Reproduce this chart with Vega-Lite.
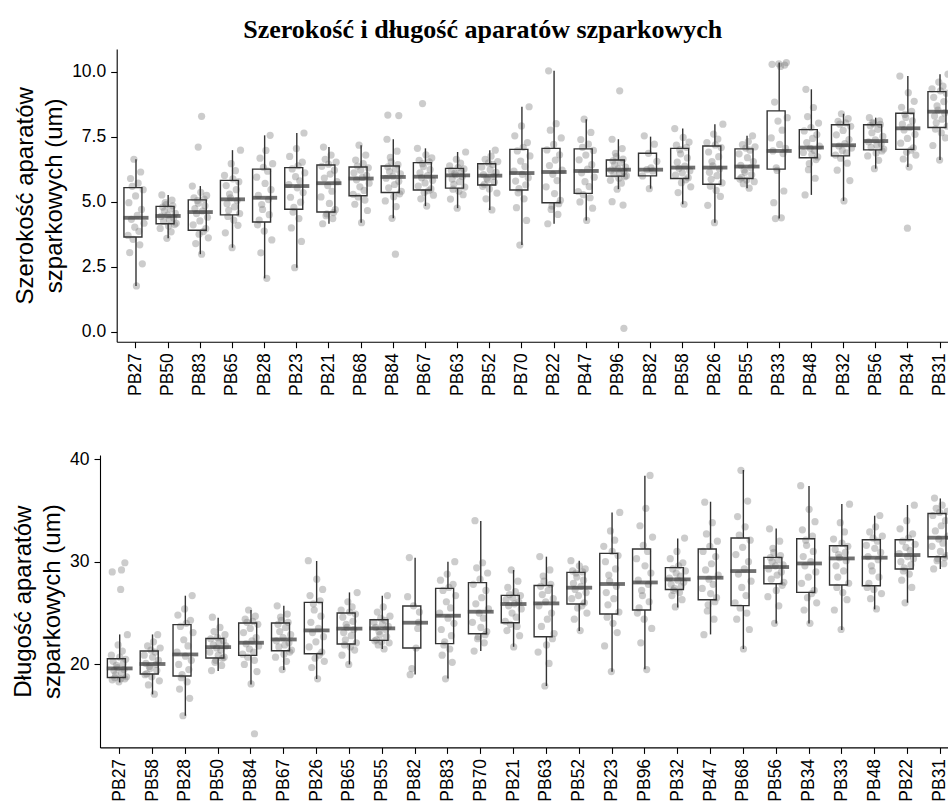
{
"$schema": "https://vega.github.io/schema/vega-lite/v6.json",
"padding": {"left": 11, "top": 17, "right": 0, "bottom": 0},
"title": {"text": "Szerokość i długość aparatów szparkowych", "font": "Liberation Serif", "fontSize": 26, "fontWeight": "bold", "color": "black", "anchor": "middle", "offset": 6, "dx": -3},
"spacing": 54,
"config": {
  "view": {"stroke": null},
  "axis": {"domainColor": "black", "domainWidth": 1.1, "tickColor": "black", "tickWidth": 1.1, "tickSize": 6, "labelPadding": 5, "labelColor": "black", "labelFont": "Liberation Sans", "labelFontSize": 17.5, "titleFont": "Liberation Sans", "titleFontSize": 24, "titleFontWeight": "normal", "titleColor": "black", "titleLineHeight": 29, "titlePadding": 5, "grid": false, "labelOverlap": false, "labelFlush": false}
},
"datasets": {
"bw": [
{"g":"PB27","lo":1.76,"q1":3.64,"md":4.38,"q3":5.54,"hi":6.63},
{"g":"PB50","lo":3.59,"q1":4.15,"md":4.45,"q3":4.82,"hi":5.26},
{"g":"PB83","lo":2.98,"q1":3.90,"md":4.60,"q3":5.07,"hi":5.60},
{"g":"PB65","lo":3.23,"q1":4.49,"md":5.09,"q3":5.82,"hi":6.98},
{"g":"PB28","lo":2.05,"q1":4.22,"md":5.15,"q3":6.25,"hi":7.55},
{"g":"PB23","lo":2.46,"q1":4.71,"md":5.60,"q3":6.31,"hi":7.64},
{"g":"PB21","lo":4.15,"q1":4.60,"md":5.71,"q3":6.41,"hi":7.10},
{"g":"PB68","lo":4.19,"q1":5.23,"md":5.89,"q3":6.33,"hi":7.17},
{"g":"PB84","lo":4.36,"q1":5.35,"md":5.95,"q3":6.37,"hi":7.40},
{"g":"PB67","lo":4.83,"q1":5.45,"md":5.96,"q3":6.50,"hi":7.05},
{"g":"PB63","lo":4.75,"q1":5.52,"md":6.01,"q3":6.28,"hi":6.91},
{"g":"PB52","lo":4.68,"q1":5.64,"md":6.00,"q3":6.46,"hi":6.98},
{"g":"PB70","lo":3.33,"q1":5.45,"md":6.10,"q3":7.01,"hi":8.65},
{"g":"PB22","lo":4.15,"q1":4.96,"md":6.14,"q3":7.05,"hi":10.03},
{"g":"PB47","lo":4.28,"q1":5.32,"md":6.18,"q3":7.03,"hi":8.17},
{"g":"PB96","lo":5.48,"q1":5.98,"md":6.23,"q3":6.60,"hi":7.40},
{"g":"PB82","lo":5.50,"q1":5.99,"md":6.23,"q3":6.86,"hi":7.50},
{"g":"PB58","lo":4.90,"q1":5.89,"md":6.31,"q3":7.05,"hi":7.81},
{"g":"PB26","lo":4.19,"q1":5.67,"md":6.31,"q3":7.14,"hi":7.98},
{"g":"PB55","lo":5.52,"q1":5.89,"md":6.35,"q3":7.03,"hi":7.53},
{"g":"PB33","lo":4.35,"q1":6.25,"md":6.95,"q3":8.49,"hi":10.35},
{"g":"PB48","lo":5.26,"q1":6.69,"md":7.08,"q3":7.77,"hi":9.32},
{"g":"PB32","lo":5.03,"q1":6.76,"md":7.17,"q3":7.96,"hi":8.38},
{"g":"PB56","lo":6.27,"q1":6.99,"md":7.33,"q3":7.96,"hi":8.23},
{"g":"PB34","lo":6.33,"q1":7.01,"md":7.82,"q3":8.40,"hi":9.83},
{"g":"PB31","lo":6.60,"q1":7.85,"md":8.46,"q3":9.23,"hi":9.90}
],
"bl": [
{"g":"PB27","lo":18.25,"q1":18.73,"md":19.61,"q3":20.55,"hi":22.92},
{"g":"PB58","lo":17.08,"q1":19.07,"md":20.04,"q3":21.30,"hi":22.92},
{"g":"PB28","lo":15.0,"q1":18.87,"md":20.97,"q3":23.87,"hi":26.69},
{"g":"PB50","lo":19.36,"q1":20.62,"md":21.69,"q3":22.53,"hi":24.55},
{"g":"PB84","lo":18.05,"q1":20.88,"md":22.11,"q3":24.03,"hi":25.30},
{"g":"PB67","lo":19.45,"q1":21.33,"md":22.43,"q3":24.03,"hi":25.72},
{"g":"PB26","lo":18.58,"q1":21.04,"md":23.31,"q3":26.04,"hi":30.07},
{"g":"PB65","lo":20.0,"q1":21.99,"md":23.48,"q3":25.0,"hi":27.01},
{"g":"PB55","lo":21.50,"q1":22.34,"md":23.51,"q3":24.35,"hi":26.69},
{"g":"PB82","lo":19.03,"q1":21.60,"md":24.06,"q3":25.69,"hi":30.39},
{"g":"PB83","lo":18.64,"q1":22.02,"md":24.74,"q3":27.40,"hi":30.0},
{"g":"PB70","lo":21.30,"q1":22.99,"md":25.13,"q3":27.96,"hi":33.96},
{"g":"PB21","lo":21.72,"q1":24.06,"md":25.88,"q3":26.72,"hi":29.19},
{"g":"PB63","lo":17.90,"q1":22.70,"md":25.94,"q3":27.69,"hi":30.49},
{"g":"PB52","lo":23.25,"q1":25.88,"md":27.47,"q3":28.96,"hi":30.10},
{"g":"PB23","lo":19.29,"q1":24.91,"md":27.83,"q3":30.81,"hi":34.80},
{"g":"PB96","lo":19.52,"q1":25.30,"md":27.98,"q3":31.24,"hi":38.37},
{"g":"PB32","lo":25.55,"q1":27.30,"md":28.28,"q3":29.42,"hi":32.27},
{"g":"PB47","lo":22.92,"q1":26.30,"md":28.44,"q3":31.24,"hi":35.84},
{"g":"PB68","lo":21.50,"q1":25.72,"md":29.09,"q3":32.31,"hi":38.93},
{"g":"PB56","lo":23.99,"q1":27.86,"md":29.48,"q3":30.42,"hi":33.24},
{"g":"PB34","lo":23.99,"q1":27.01,"md":29.83,"q3":32.24,"hi":37.37},
{"g":"PB33","lo":23.35,"q1":27.73,"md":30.32,"q3":31.56,"hi":35.62},
{"g":"PB48","lo":25.36,"q1":27.66,"md":30.39,"q3":32.14,"hi":34.48},
{"g":"PB22","lo":26.01,"q1":29.29,"md":30.65,"q3":32.14,"hi":35.52},
{"g":"PB31","lo":29.29,"q1":30.49,"md":32.34,"q3":34.70,"hi":36.16}
],
"w": [
{"g":"PB27","v":3.55,"r":7},{"g":"PB27","v":3.34,"r":15},{"g":"PB27","v":3.04,"r":3},{"g":"PB27","v":2.61,"r":18},{"g":"PB27","v":1.76,"r":11},{"g":"PB27","v":3.70,"r":1},{"g":"PB27","v":3.86,"r":14},{"g":"PB27","v":4.02,"r":9},{"g":"PB27","v":4.17,"r":20},{"g":"PB27","v":4.32,"r":5},{"g":"PB27","v":4.47,"r":12},{"g":"PB27","v":4.70,"r":17},{"g":"PB27","v":4.96,"r":2},{"g":"PB27","v":5.22,"r":10},{"g":"PB27","v":5.46,"r":19},{"g":"PB27","v":5.59,"r":6},{"g":"PB27","v":5.71,"r":13},{"g":"PB27","v":5.89,"r":4},{"g":"PB27","v":6.14,"r":16},{"g":"PB27","v":6.63,"r":8},
{"g":"PB50","v":4.12,"r":18},{"g":"PB50","v":4.06,"r":11},{"g":"PB50","v":3.97,"r":1},{"g":"PB50","v":3.84,"r":14},{"g":"PB50","v":3.59,"r":9},{"g":"PB50","v":4.17,"r":20},{"g":"PB50","v":4.24,"r":5},{"g":"PB50","v":4.31,"r":12},{"g":"PB50","v":4.37,"r":17},{"g":"PB50","v":4.43,"r":2},{"g":"PB50","v":4.48,"r":10},{"g":"PB50","v":4.55,"r":19},{"g":"PB50","v":4.64,"r":6},{"g":"PB50","v":4.72,"r":13},{"g":"PB50","v":4.79,"r":4},{"g":"PB50","v":4.84,"r":16},{"g":"PB50","v":4.89,"r":8},{"g":"PB50","v":4.96,"r":7},{"g":"PB50","v":5.06,"r":15},{"g":"PB50","v":5.26,"r":3},
{"g":"PB83","v":3.85,"r":14},{"g":"PB83","v":3.75,"r":9},{"g":"PB83","v":3.61,"r":20},{"g":"PB83","v":3.39,"r":5},{"g":"PB83","v":2.98,"r":12},{"g":"PB83","v":3.96,"r":17},{"g":"PB83","v":4.11,"r":2},{"g":"PB83","v":4.26,"r":10},{"g":"PB83","v":4.40,"r":19},{"g":"PB83","v":4.54,"r":6},{"g":"PB83","v":4.64,"r":13},{"g":"PB83","v":4.73,"r":4},{"g":"PB83","v":4.84,"r":16},{"g":"PB83","v":4.94,"r":8},{"g":"PB83","v":5.04,"r":7},{"g":"PB83","v":5.10,"r":15},{"g":"PB83","v":5.15,"r":3},{"g":"PB83","v":5.24,"r":18},{"g":"PB83","v":5.36,"r":11},{"g":"PB83","v":5.60,"r":1},{"g":"PB83","v":7.10,"r":8},{"g":"PB83","v":8.28,"r":12},
{"g":"PB65","v":4.43,"r":5},{"g":"PB65","v":4.29,"r":12},{"g":"PB65","v":4.09,"r":17},{"g":"PB65","v":3.80,"r":2},{"g":"PB65","v":3.23,"r":10},{"g":"PB65","v":4.54,"r":19},{"g":"PB65","v":4.67,"r":6},{"g":"PB65","v":4.80,"r":13},{"g":"PB65","v":4.92,"r":4},{"g":"PB65","v":5.04,"r":16},{"g":"PB65","v":5.15,"r":8},{"g":"PB65","v":5.29,"r":7},{"g":"PB65","v":5.46,"r":15},{"g":"PB65","v":5.62,"r":3},{"g":"PB65","v":5.77,"r":18},{"g":"PB65","v":5.88,"r":11},{"g":"PB65","v":6.01,"r":1},{"g":"PB65","v":6.19,"r":14},{"g":"PB65","v":6.46,"r":9},{"g":"PB65","v":6.98,"r":20},
{"g":"PB28","v":4.11,"r":2},{"g":"PB28","v":3.87,"r":10},{"g":"PB28","v":3.53,"r":19},{"g":"PB28","v":3.03,"r":6},{"g":"PB28","v":2.05,"r":13},{"g":"PB28","v":4.29,"r":4},{"g":"PB28","v":4.50,"r":16},{"g":"PB28","v":4.70,"r":8},{"g":"PB28","v":4.89,"r":7},{"g":"PB28","v":5.08,"r":15},{"g":"PB28","v":5.24,"r":3},{"g":"PB28","v":5.46,"r":18},{"g":"PB28","v":5.70,"r":11},{"g":"PB28","v":5.94,"r":1},{"g":"PB28","v":6.17,"r":14},{"g":"PB28","v":6.32,"r":9},{"g":"PB28","v":6.46,"r":20},{"g":"PB28","v":6.67,"r":5},{"g":"PB28","v":6.97,"r":12},{"g":"PB28","v":7.55,"r":17},
{"g":"PB23","v":4.60,"r":6},{"g":"PB23","v":4.35,"r":13},{"g":"PB23","v":3.99,"r":4},{"g":"PB23","v":3.47,"r":16},{"g":"PB23","v":2.46,"r":8},{"g":"PB23","v":4.78,"r":7},{"g":"PB23","v":4.98,"r":15},{"g":"PB23","v":5.17,"r":3},{"g":"PB23","v":5.35,"r":18},{"g":"PB23","v":5.53,"r":11},{"g":"PB23","v":5.66,"r":1},{"g":"PB23","v":5.80,"r":14},{"g":"PB23","v":5.96,"r":9},{"g":"PB23","v":6.11,"r":20},{"g":"PB23","v":6.26,"r":5},{"g":"PB23","v":6.38,"r":12},{"g":"PB23","v":6.52,"r":17},{"g":"PB23","v":6.74,"r":2},{"g":"PB23","v":7.04,"r":10},{"g":"PB23","v":7.64,"r":19},
{"g":"PB21","v":4.58,"r":16},{"g":"PB21","v":4.53,"r":8},{"g":"PB21","v":4.46,"r":7},{"g":"PB21","v":4.35,"r":15},{"g":"PB21","v":4.15,"r":3},{"g":"PB21","v":4.69,"r":18},{"g":"PB21","v":4.93,"r":11},{"g":"PB21","v":5.18,"r":1},{"g":"PB21","v":5.40,"r":14},{"g":"PB21","v":5.62,"r":9},{"g":"PB21","v":5.77,"r":20},{"g":"PB21","v":5.91,"r":5},{"g":"PB21","v":6.06,"r":12},{"g":"PB21","v":6.21,"r":17},{"g":"PB21","v":6.36,"r":2},{"g":"PB21","v":6.44,"r":10},{"g":"PB21","v":6.52,"r":19},{"g":"PB21","v":6.63,"r":6},{"g":"PB21","v":6.79,"r":13},{"g":"PB21","v":7.10,"r":4},
{"g":"PB68","v":5.18,"r":7},{"g":"PB68","v":5.06,"r":15},{"g":"PB68","v":4.90,"r":3},{"g":"PB68","v":4.66,"r":18},{"g":"PB68","v":4.19,"r":11},{"g":"PB68","v":5.28,"r":1},{"g":"PB68","v":5.43,"r":14},{"g":"PB68","v":5.57,"r":9},{"g":"PB68","v":5.71,"r":20},{"g":"PB68","v":5.84,"r":5},{"g":"PB68","v":5.93,"r":12},{"g":"PB68","v":6.01,"r":17},{"g":"PB68","v":6.11,"r":2},{"g":"PB68","v":6.21,"r":10},{"g":"PB68","v":6.30,"r":19},{"g":"PB68","v":6.37,"r":6},{"g":"PB68","v":6.46,"r":13},{"g":"PB68","v":6.60,"r":4},{"g":"PB68","v":6.79,"r":16},{"g":"PB68","v":7.17,"r":8},
{"g":"PB84","v":5.30,"r":18},{"g":"PB84","v":5.19,"r":11},{"g":"PB84","v":5.03,"r":1},{"g":"PB84","v":4.81,"r":14},{"g":"PB84","v":4.36,"r":9},{"g":"PB84","v":5.40,"r":20},{"g":"PB84","v":5.53,"r":5},{"g":"PB84","v":5.66,"r":12},{"g":"PB84","v":5.78,"r":17},{"g":"PB84","v":5.90,"r":2},{"g":"PB84","v":5.98,"r":10},{"g":"PB84","v":6.07,"r":19},{"g":"PB84","v":6.16,"r":6},{"g":"PB84","v":6.25,"r":13},{"g":"PB84","v":6.34,"r":4},{"g":"PB84","v":6.42,"r":16},{"g":"PB84","v":6.53,"r":8},{"g":"PB84","v":6.70,"r":7},{"g":"PB84","v":6.94,"r":15},{"g":"PB84","v":7.40,"r":3},{"g":"PB84","v":8.33,"r":4},{"g":"PB84","v":8.31,"r":17},{"g":"PB84","v":2.98,"r":13},
{"g":"PB67","v":5.42,"r":14},{"g":"PB67","v":5.35,"r":9},{"g":"PB67","v":5.25,"r":20},{"g":"PB67","v":5.11,"r":5},{"g":"PB67","v":4.83,"r":12},{"g":"PB67","v":5.49,"r":17},{"g":"PB67","v":5.60,"r":2},{"g":"PB67","v":5.72,"r":10},{"g":"PB67","v":5.82,"r":19},{"g":"PB67","v":5.92,"r":6},{"g":"PB67","v":6.00,"r":13},{"g":"PB67","v":6.11,"r":4},{"g":"PB67","v":6.23,"r":16},{"g":"PB67","v":6.35,"r":8},{"g":"PB67","v":6.46,"r":7},{"g":"PB67","v":6.53,"r":15},{"g":"PB67","v":6.59,"r":3},{"g":"PB67","v":6.68,"r":18},{"g":"PB67","v":6.80,"r":11},{"g":"PB67","v":7.05,"r":1},{"g":"PB67","v":8.77,"r":7},
{"g":"PB63","v":5.48,"r":5},{"g":"PB63","v":5.40,"r":12},{"g":"PB63","v":5.27,"r":17},{"g":"PB63","v":5.10,"r":2},{"g":"PB63","v":4.75,"r":10},{"g":"PB63","v":5.56,"r":19},{"g":"PB63","v":5.67,"r":6},{"g":"PB63","v":5.77,"r":13},{"g":"PB63","v":5.87,"r":4},{"g":"PB63","v":5.97,"r":16},{"g":"PB63","v":6.03,"r":8},{"g":"PB63","v":6.09,"r":7},{"g":"PB63","v":6.15,"r":15},{"g":"PB63","v":6.20,"r":3},{"g":"PB63","v":6.26,"r":18},{"g":"PB63","v":6.31,"r":11},{"g":"PB63","v":6.38,"r":1},{"g":"PB63","v":6.48,"r":14},{"g":"PB63","v":6.63,"r":9},{"g":"PB63","v":6.91,"r":20},
{"g":"PB52","v":5.59,"r":2},{"g":"PB52","v":5.49,"r":10},{"g":"PB52","v":5.33,"r":19},{"g":"PB52","v":5.11,"r":6},{"g":"PB52","v":4.68,"r":13},{"g":"PB52","v":5.67,"r":4},{"g":"PB52","v":5.75,"r":16},{"g":"PB52","v":5.83,"r":8},{"g":"PB52","v":5.90,"r":7},{"g":"PB52","v":5.97,"r":15},{"g":"PB52","v":6.04,"r":3},{"g":"PB52","v":6.13,"r":18},{"g":"PB52","v":6.23,"r":11},{"g":"PB52","v":6.33,"r":1},{"g":"PB52","v":6.43,"r":14},{"g":"PB52","v":6.49,"r":9},{"g":"PB52","v":6.54,"r":20},{"g":"PB52","v":6.63,"r":5},{"g":"PB52","v":6.75,"r":12},{"g":"PB52","v":6.98,"r":17},
{"g":"PB70","v":5.34,"r":6},{"g":"PB70","v":5.11,"r":13},{"g":"PB70","v":4.77,"r":4},{"g":"PB70","v":4.28,"r":16},{"g":"PB70","v":3.33,"r":8},{"g":"PB70","v":5.50,"r":7},{"g":"PB70","v":5.65,"r":15},{"g":"PB70","v":5.79,"r":3},{"g":"PB70","v":5.92,"r":18},{"g":"PB70","v":6.05,"r":11},{"g":"PB70","v":6.17,"r":1},{"g":"PB70","v":6.35,"r":14},{"g":"PB70","v":6.56,"r":9},{"g":"PB70","v":6.76,"r":20},{"g":"PB70","v":6.95,"r":5},{"g":"PB70","v":7.09,"r":12},{"g":"PB70","v":7.27,"r":17},{"g":"PB70","v":7.53,"r":2},{"g":"PB70","v":7.91,"r":10},{"g":"PB70","v":8.65,"r":19},
{"g":"PB22","v":4.92,"r":16},{"g":"PB22","v":4.83,"r":8},{"g":"PB22","v":4.70,"r":7},{"g":"PB22","v":4.51,"r":15},{"g":"PB22","v":4.15,"r":3},{"g":"PB22","v":5.05,"r":18},{"g":"PB22","v":5.31,"r":11},{"g":"PB22","v":5.57,"r":1},{"g":"PB22","v":5.81,"r":14},{"g":"PB22","v":6.05,"r":9},{"g":"PB22","v":6.21,"r":20},{"g":"PB22","v":6.39,"r":5},{"g":"PB22","v":6.60,"r":12},{"g":"PB22","v":6.80,"r":17},{"g":"PB22","v":6.99,"r":2},{"g":"PB22","v":7.20,"r":10},{"g":"PB22","v":7.45,"r":19},{"g":"PB22","v":7.75,"r":6},{"g":"PB22","v":8.00,"r":13},{"g":"PB22","v":10.03,"r":4},
{"g":"PB47","v":5.27,"r":7},{"g":"PB47","v":5.15,"r":15},{"g":"PB47","v":4.99,"r":3},{"g":"PB47","v":4.75,"r":18},{"g":"PB47","v":4.28,"r":11},{"g":"PB47","v":5.39,"r":1},{"g":"PB47","v":5.58,"r":14},{"g":"PB47","v":5.77,"r":9},{"g":"PB47","v":5.94,"r":20},{"g":"PB47","v":6.11,"r":5},{"g":"PB47","v":6.25,"r":12},{"g":"PB47","v":6.42,"r":17},{"g":"PB47","v":6.61,"r":2},{"g":"PB47","v":6.79,"r":10},{"g":"PB47","v":6.97,"r":19},{"g":"PB47","v":7.09,"r":6},{"g":"PB47","v":7.21,"r":13},{"g":"PB47","v":7.39,"r":4},{"g":"PB47","v":7.66,"r":16},{"g":"PB47","v":8.17,"r":8},
{"g":"PB96","v":5.96,"r":18},{"g":"PB96","v":5.90,"r":11},{"g":"PB96","v":5.82,"r":1},{"g":"PB96","v":5.71,"r":14},{"g":"PB96","v":5.48,"r":9},{"g":"PB96","v":6.00,"r":20},{"g":"PB96","v":6.06,"r":5},{"g":"PB96","v":6.11,"r":12},{"g":"PB96","v":6.16,"r":17},{"g":"PB96","v":6.21,"r":2},{"g":"PB96","v":6.26,"r":10},{"g":"PB96","v":6.33,"r":19},{"g":"PB96","v":6.42,"r":6},{"g":"PB96","v":6.50,"r":13},{"g":"PB96","v":6.57,"r":4},{"g":"PB96","v":6.64,"r":16},{"g":"PB96","v":6.73,"r":8},{"g":"PB96","v":6.86,"r":7},{"g":"PB96","v":7.04,"r":15},{"g":"PB96","v":7.40,"r":3},{"g":"PB96","v":9.26,"r":12},{"g":"PB96","v":0.13,"r":17},{"g":"PB96","v":5.00,"r":3},{"g":"PB96","v":4.87,"r":16},
{"g":"PB82","v":7.53,"r":3},{"g":"PB82","v":7.21,"r":15},{"g":"PB82","v":6.86,"r":8},{"g":"PB82","v":6.55,"r":18},{"g":"PB82","v":6.30,"r":11},{"g":"PB82","v":6.23,"r":6},{"g":"PB82","v":6.18,"r":13},{"g":"PB82","v":5.99,"r":1},{"g":"PB82","v":5.50,"r":9},
{"g":"PB58","v":5.84,"r":14},{"g":"PB58","v":5.73,"r":9},{"g":"PB58","v":5.57,"r":20},{"g":"PB58","v":5.35,"r":5},{"g":"PB58","v":4.90,"r":12},{"g":"PB58","v":5.92,"r":17},{"g":"PB58","v":6.02,"r":2},{"g":"PB58","v":6.11,"r":10},{"g":"PB58","v":6.19,"r":19},{"g":"PB58","v":6.28,"r":6},{"g":"PB58","v":6.37,"r":13},{"g":"PB58","v":6.52,"r":4},{"g":"PB58","v":6.68,"r":16},{"g":"PB58","v":6.84,"r":8},{"g":"PB58","v":7.00,"r":7},{"g":"PB58","v":7.09,"r":15},{"g":"PB58","v":7.17,"r":3},{"g":"PB58","v":7.29,"r":18},{"g":"PB58","v":7.47,"r":11},{"g":"PB58","v":7.81,"r":1},
{"g":"PB26","v":5.60,"r":5},{"g":"PB26","v":5.43,"r":12},{"g":"PB26","v":5.20,"r":17},{"g":"PB26","v":4.86,"r":2},{"g":"PB26","v":4.19,"r":10},{"g":"PB26","v":5.72,"r":19},{"g":"PB26","v":5.86,"r":6},{"g":"PB26","v":6.00,"r":13},{"g":"PB26","v":6.13,"r":4},{"g":"PB26","v":6.26,"r":16},{"g":"PB26","v":6.38,"r":8},{"g":"PB26","v":6.54,"r":7},{"g":"PB26","v":6.73,"r":15},{"g":"PB26","v":6.91,"r":3},{"g":"PB26","v":7.08,"r":18},{"g":"PB26","v":7.18,"r":11},{"g":"PB26","v":7.27,"r":1},{"g":"PB26","v":7.41,"r":14},{"g":"PB26","v":7.60,"r":9},{"g":"PB26","v":7.98,"r":20},
{"g":"PB55","v":5.87,"r":2},{"g":"PB55","v":5.83,"r":10},{"g":"PB55","v":5.77,"r":19},{"g":"PB55","v":5.69,"r":6},{"g":"PB55","v":5.52,"r":13},{"g":"PB55","v":5.93,"r":4},{"g":"PB55","v":6.03,"r":16},{"g":"PB55","v":6.13,"r":8},{"g":"PB55","v":6.22,"r":7},{"g":"PB55","v":6.31,"r":15},{"g":"PB55","v":6.40,"r":3},{"g":"PB55","v":6.54,"r":18},{"g":"PB55","v":6.69,"r":11},{"g":"PB55","v":6.84,"r":1},{"g":"PB55","v":6.98,"r":14},{"g":"PB55","v":7.06,"r":9},{"g":"PB55","v":7.11,"r":20},{"g":"PB55","v":7.19,"r":5},{"g":"PB55","v":7.31,"r":12},{"g":"PB55","v":7.53,"r":17},
{"g":"PB33","v":4.35,"r":6},{"g":"PB33","v":4.38,"r":13},{"g":"PB33","v":4.96,"r":4},{"g":"PB33","v":5.41,"r":16},{"g":"PB33","v":6.20,"r":8},{"g":"PB33","v":6.30,"r":7},{"g":"PB33","v":6.85,"r":15},{"g":"PB33","v":6.95,"r":3},{"g":"PB33","v":7.05,"r":18},{"g":"PB33","v":7.20,"r":11},{"g":"PB33","v":7.45,"r":1},{"g":"PB33","v":7.75,"r":14},{"g":"PB33","v":8.10,"r":9},{"g":"PB33","v":8.23,"r":20},{"g":"PB33","v":8.83,"r":5},{"g":"PB33","v":10.20,"r":12},{"g":"PB33","v":10.25,"r":17},{"g":"PB33","v":10.28,"r":2},{"g":"PB33","v":10.30,"r":10},{"g":"PB33","v":10.35,"r":19},
{"g":"PB48","v":6.62,"r":16},{"g":"PB48","v":6.46,"r":8},{"g":"PB48","v":6.23,"r":7},{"g":"PB48","v":5.90,"r":15},{"g":"PB48","v":5.26,"r":3},{"g":"PB48","v":6.72,"r":18},{"g":"PB48","v":6.81,"r":11},{"g":"PB48","v":6.89,"r":1},{"g":"PB48","v":6.97,"r":14},{"g":"PB48","v":7.05,"r":9},{"g":"PB48","v":7.14,"r":20},{"g":"PB48","v":7.27,"r":5},{"g":"PB48","v":7.43,"r":12},{"g":"PB48","v":7.58,"r":17},{"g":"PB48","v":7.72,"r":2},{"g":"PB48","v":7.85,"r":10},{"g":"PB48","v":8.02,"r":19},{"g":"PB48","v":8.27,"r":6},{"g":"PB48","v":8.62,"r":13},{"g":"PB48","v":9.32,"r":4},
{"g":"PB32","v":6.67,"r":7},{"g":"PB32","v":6.48,"r":15},{"g":"PB32","v":6.21,"r":3},{"g":"PB32","v":5.81,"r":18},{"g":"PB32","v":5.03,"r":11},{"g":"PB32","v":6.79,"r":1},{"g":"PB32","v":6.88,"r":14},{"g":"PB32","v":6.97,"r":9},{"g":"PB32","v":7.06,"r":20},{"g":"PB32","v":7.14,"r":5},{"g":"PB32","v":7.23,"r":12},{"g":"PB32","v":7.39,"r":17},{"g":"PB32","v":7.57,"r":2},{"g":"PB32","v":7.74,"r":10},{"g":"PB32","v":7.90,"r":19},{"g":"PB32","v":7.98,"r":6},{"g":"PB32","v":8.03,"r":13},{"g":"PB32","v":8.09,"r":4},{"g":"PB32","v":8.19,"r":16},{"g":"PB32","v":8.38,"r":8},
{"g":"PB56","v":6.95,"r":18},{"g":"PB56","v":6.87,"r":11},{"g":"PB56","v":6.76,"r":1},{"g":"PB56","v":6.59,"r":14},{"g":"PB56","v":6.27,"r":9},{"g":"PB56","v":7.02,"r":20},{"g":"PB56","v":7.09,"r":5},{"g":"PB56","v":7.17,"r":12},{"g":"PB56","v":7.23,"r":17},{"g":"PB56","v":7.30,"r":2},{"g":"PB56","v":7.38,"r":10},{"g":"PB56","v":7.51,"r":19},{"g":"PB56","v":7.65,"r":6},{"g":"PB56","v":7.78,"r":13},{"g":"PB56","v":7.92,"r":4},{"g":"PB56","v":7.97,"r":16},{"g":"PB56","v":8.00,"r":8},{"g":"PB56","v":8.05,"r":7},{"g":"PB56","v":8.11,"r":15},{"g":"PB56","v":8.23,"r":3},
{"g":"PB34","v":6.98,"r":14},{"g":"PB34","v":6.90,"r":9},{"g":"PB34","v":6.79,"r":20},{"g":"PB34","v":6.64,"r":5},{"g":"PB34","v":6.33,"r":12},{"g":"PB34","v":7.07,"r":17},{"g":"PB34","v":7.25,"r":2},{"g":"PB34","v":7.43,"r":10},{"g":"PB34","v":7.59,"r":19},{"g":"PB34","v":7.76,"r":6},{"g":"PB34","v":7.87,"r":13},{"g":"PB34","v":7.98,"r":4},{"g":"PB34","v":8.11,"r":16},{"g":"PB34","v":8.24,"r":8},{"g":"PB34","v":8.36,"r":7},{"g":"PB34","v":8.47,"r":15},{"g":"PB34","v":8.63,"r":3},{"g":"PB34","v":8.86,"r":18},{"g":"PB34","v":9.19,"r":11},{"g":"PB34","v":9.83,"r":1},{"g":"PB34","v":3.98,"r":10},
{"g":"PB31","v":7.79,"r":5},{"g":"PB31","v":7.65,"r":12},{"g":"PB31","v":7.45,"r":17},{"g":"PB31","v":7.16,"r":2},{"g":"PB31","v":6.60,"r":10},{"g":"PB31","v":7.90,"r":19},{"g":"PB31","v":8.03,"r":6},{"g":"PB31","v":8.17,"r":13},{"g":"PB31","v":8.29,"r":4},{"g":"PB31","v":8.41,"r":16},{"g":"PB31","v":8.52,"r":8},{"g":"PB31","v":8.68,"r":7},{"g":"PB31","v":8.85,"r":15},{"g":"PB31","v":9.01,"r":3},{"g":"PB31","v":9.17,"r":18},{"g":"PB31","v":9.26,"r":11},{"g":"PB31","v":9.34,"r":1},{"g":"PB31","v":9.44,"r":14},{"g":"PB31","v":9.60,"r":9},{"g":"PB31","v":9.90,"r":20}
],
"l": [
{"g":"PB27","v":18.7,"r":5},{"g":"PB27","v":18.6,"r":12},{"g":"PB27","v":18.6,"r":17},{"g":"PB27","v":18.5,"r":2},{"g":"PB27","v":18.3,"r":10},{"g":"PB27","v":18.8,"r":19},{"g":"PB27","v":19.0,"r":6},{"g":"PB27","v":19.2,"r":13},{"g":"PB27","v":19.4,"r":4},{"g":"PB27","v":19.5,"r":16},{"g":"PB27","v":19.7,"r":8},{"g":"PB27","v":19.9,"r":7},{"g":"PB27","v":20.1,"r":15},{"g":"PB27","v":20.3,"r":3},{"g":"PB27","v":20.5,"r":18},{"g":"PB27","v":20.7,"r":11},{"g":"PB27","v":20.9,"r":1},{"g":"PB27","v":21.3,"r":14},{"g":"PB27","v":21.9,"r":9},{"g":"PB27","v":22.9,"r":20},{"g":"PB27","v":27.3,"r":12},{"g":"PB27","v":29.0,"r":2},{"g":"PB27","v":29.2,"r":13},{"g":"PB27","v":29.9,"r":17},
{"g":"PB58","v":19.0,"r":2},{"g":"PB58","v":18.8,"r":10},{"g":"PB58","v":18.4,"r":19},{"g":"PB58","v":18.0,"r":6},{"g":"PB58","v":17.1,"r":13},{"g":"PB58","v":19.1,"r":4},{"g":"PB58","v":19.4,"r":16},{"g":"PB58","v":19.6,"r":8},{"g":"PB58","v":19.8,"r":7},{"g":"PB58","v":20.0,"r":15},{"g":"PB58","v":20.1,"r":3},{"g":"PB58","v":20.4,"r":18},{"g":"PB58","v":20.7,"r":11},{"g":"PB58","v":20.9,"r":1},{"g":"PB58","v":21.2,"r":14},{"g":"PB58","v":21.4,"r":9},{"g":"PB58","v":21.6,"r":20},{"g":"PB58","v":21.8,"r":5},{"g":"PB58","v":22.2,"r":12},{"g":"PB58","v":22.9,"r":17},
{"g":"PB28","v":18.7,"r":6},{"g":"PB28","v":18.3,"r":13},{"g":"PB28","v":17.6,"r":4},{"g":"PB28","v":16.7,"r":16},{"g":"PB28","v":15.0,"r":8},{"g":"PB28","v":19.0,"r":7},{"g":"PB28","v":19.5,"r":15},{"g":"PB28","v":20.0,"r":3},{"g":"PB28","v":20.4,"r":18},{"g":"PB28","v":20.8,"r":11},{"g":"PB28","v":21.2,"r":1},{"g":"PB28","v":21.8,"r":14},{"g":"PB28","v":22.4,"r":9},{"g":"PB28","v":23.1,"r":20},{"g":"PB28","v":23.7,"r":5},{"g":"PB28","v":24.0,"r":12},{"g":"PB28","v":24.3,"r":17},{"g":"PB28","v":24.8,"r":2},{"g":"PB28","v":25.4,"r":10},{"g":"PB28","v":26.7,"r":19},
{"g":"PB50","v":20.6,"r":16},{"g":"PB50","v":20.4,"r":8},{"g":"PB50","v":20.2,"r":7},{"g":"PB50","v":19.9,"r":15},{"g":"PB50","v":19.4,"r":3},{"g":"PB50","v":20.7,"r":18},{"g":"PB50","v":20.9,"r":11},{"g":"PB50","v":21.2,"r":1},{"g":"PB50","v":21.4,"r":14},{"g":"PB50","v":21.6,"r":9},{"g":"PB50","v":21.8,"r":20},{"g":"PB50","v":21.9,"r":5},{"g":"PB50","v":22.1,"r":12},{"g":"PB50","v":22.3,"r":17},{"g":"PB50","v":22.5,"r":2},{"g":"PB50","v":22.6,"r":10},{"g":"PB50","v":22.9,"r":19},{"g":"PB50","v":23.2,"r":6},{"g":"PB50","v":23.6,"r":13},{"g":"PB50","v":24.6,"r":4},
{"g":"PB84","v":20.7,"r":7},{"g":"PB84","v":20.4,"r":15},{"g":"PB84","v":20.0,"r":3},{"g":"PB84","v":19.3,"r":18},{"g":"PB84","v":18.1,"r":11},{"g":"PB84","v":21.0,"r":1},{"g":"PB84","v":21.2,"r":14},{"g":"PB84","v":21.5,"r":9},{"g":"PB84","v":21.8,"r":20},{"g":"PB84","v":22.0,"r":5},{"g":"PB84","v":22.3,"r":12},{"g":"PB84","v":22.6,"r":17},{"g":"PB84","v":23.1,"r":2},{"g":"PB84","v":23.5,"r":10},{"g":"PB84","v":23.9,"r":19},{"g":"PB84","v":24.1,"r":6},{"g":"PB84","v":24.2,"r":13},{"g":"PB84","v":24.4,"r":4},{"g":"PB84","v":24.7,"r":16},{"g":"PB84","v":25.3,"r":8},{"g":"PB84","v":13.25,"r":15},
{"g":"PB67","v":21.2,"r":18},{"g":"PB67","v":21.0,"r":11},{"g":"PB67","v":20.7,"r":1},{"g":"PB67","v":20.3,"r":14},{"g":"PB67","v":19.5,"r":9},{"g":"PB67","v":21.4,"r":20},{"g":"PB67","v":21.7,"r":5},{"g":"PB67","v":21.9,"r":12},{"g":"PB67","v":22.1,"r":17},{"g":"PB67","v":22.3,"r":2},{"g":"PB67","v":22.6,"r":10},{"g":"PB67","v":22.9,"r":19},{"g":"PB67","v":23.2,"r":6},{"g":"PB67","v":23.6,"r":13},{"g":"PB67","v":23.9,"r":4},{"g":"PB67","v":24.1,"r":16},{"g":"PB67","v":24.3,"r":8},{"g":"PB67","v":24.6,"r":7},{"g":"PB67","v":24.9,"r":15},{"g":"PB67","v":25.7,"r":3},
{"g":"PB26","v":20.9,"r":14},{"g":"PB26","v":20.6,"r":9},{"g":"PB26","v":20.3,"r":20},{"g":"PB26","v":19.7,"r":5},{"g":"PB26","v":18.6,"r":12},{"g":"PB26","v":21.2,"r":17},{"g":"PB26","v":21.7,"r":2},{"g":"PB26","v":22.2,"r":10},{"g":"PB26","v":22.7,"r":19},{"g":"PB26","v":23.1,"r":6},{"g":"PB26","v":23.5,"r":13},{"g":"PB26","v":24.1,"r":4},{"g":"PB26","v":24.7,"r":16},{"g":"PB26","v":25.3,"r":8},{"g":"PB26","v":25.9,"r":7},{"g":"PB26","v":26.2,"r":15},{"g":"PB26","v":26.7,"r":3},{"g":"PB26","v":27.3,"r":18},{"g":"PB26","v":28.3,"r":11},{"g":"PB26","v":30.1,"r":1},
{"g":"PB65","v":21.9,"r":5},{"g":"PB65","v":21.7,"r":12},{"g":"PB65","v":21.4,"r":17},{"g":"PB65","v":20.9,"r":2},{"g":"PB65","v":20.0,"r":10},{"g":"PB65","v":22.1,"r":19},{"g":"PB65","v":22.4,"r":6},{"g":"PB65","v":22.8,"r":13},{"g":"PB65","v":23.1,"r":4},{"g":"PB65","v":23.4,"r":16},{"g":"PB65","v":23.6,"r":8},{"g":"PB65","v":23.9,"r":7},{"g":"PB65","v":24.2,"r":15},{"g":"PB65","v":24.6,"r":3},{"g":"PB65","v":24.9,"r":18},{"g":"PB65","v":25.1,"r":11},{"g":"PB65","v":25.3,"r":1},{"g":"PB65","v":25.6,"r":14},{"g":"PB65","v":26.1,"r":9},{"g":"PB65","v":27.0,"r":20},
{"g":"PB55","v":22.3,"r":2},{"g":"PB55","v":22.2,"r":10},{"g":"PB55","v":22.1,"r":19},{"g":"PB55","v":21.9,"r":6},{"g":"PB55","v":21.5,"r":13},{"g":"PB55","v":22.4,"r":4},{"g":"PB55","v":22.7,"r":16},{"g":"PB55","v":22.9,"r":8},{"g":"PB55","v":23.2,"r":7},{"g":"PB55","v":23.4,"r":15},{"g":"PB55","v":23.6,"r":3},{"g":"PB55","v":23.7,"r":18},{"g":"PB55","v":23.9,"r":11},{"g":"PB55","v":24.1,"r":1},{"g":"PB55","v":24.3,"r":14},{"g":"PB55","v":24.5,"r":9},{"g":"PB55","v":24.7,"r":20},{"g":"PB55","v":25.1,"r":5},{"g":"PB55","v":25.6,"r":12},{"g":"PB55","v":26.7,"r":17},
{"g":"PB82","v":30.4,"r":4},{"g":"PB82","v":26.6,"r":2},{"g":"PB82","v":25.7,"r":9},{"g":"PB82","v":25.1,"r":16},{"g":"PB82","v":24.1,"r":15},{"g":"PB82","v":23.5,"r":14},{"g":"PB82","v":21.6,"r":12},{"g":"PB82","v":19.6,"r":7},{"g":"PB82","v":19.0,"r":5},
{"g":"PB83","v":21.9,"r":6},{"g":"PB83","v":21.5,"r":13},{"g":"PB83","v":20.9,"r":4},{"g":"PB83","v":20.2,"r":16},{"g":"PB83","v":18.6,"r":8},{"g":"PB83","v":22.2,"r":7},{"g":"PB83","v":22.8,"r":15},{"g":"PB83","v":23.4,"r":3},{"g":"PB83","v":24.0,"r":18},{"g":"PB83","v":24.5,"r":11},{"g":"PB83","v":25.0,"r":1},{"g":"PB83","v":25.5,"r":14},{"g":"PB83","v":26.1,"r":9},{"g":"PB83","v":26.7,"r":20},{"g":"PB83","v":27.2,"r":5},{"g":"PB83","v":27.5,"r":12},{"g":"PB83","v":27.8,"r":17},{"g":"PB83","v":28.2,"r":2},{"g":"PB83","v":28.8,"r":10},{"g":"PB83","v":30.0,"r":19},
{"g":"PB70","v":22.9,"r":16},{"g":"PB70","v":22.7,"r":8},{"g":"PB70","v":22.5,"r":7},{"g":"PB70","v":22.1,"r":15},{"g":"PB70","v":21.3,"r":3},{"g":"PB70","v":23.2,"r":18},{"g":"PB70","v":23.6,"r":11},{"g":"PB70","v":24.1,"r":1},{"g":"PB70","v":24.5,"r":14},{"g":"PB70","v":25.0,"r":9},{"g":"PB70","v":25.4,"r":20},{"g":"PB70","v":25.9,"r":5},{"g":"PB70","v":26.5,"r":12},{"g":"PB70","v":27.2,"r":17},{"g":"PB70","v":27.8,"r":2},{"g":"PB70","v":28.3,"r":10},{"g":"PB70","v":28.9,"r":19},{"g":"PB70","v":29.4,"r":6},{"g":"PB70","v":29.9,"r":13},{"g":"PB70","v":34.0,"r":4},
{"g":"PB21","v":23.9,"r":7},{"g":"PB21","v":23.7,"r":15},{"g":"PB21","v":23.3,"r":3},{"g":"PB21","v":22.8,"r":18},{"g":"PB21","v":21.7,"r":11},{"g":"PB21","v":24.2,"r":1},{"g":"PB21","v":24.6,"r":14},{"g":"PB21","v":25.0,"r":9},{"g":"PB21","v":25.4,"r":20},{"g":"PB21","v":25.7,"r":5},{"g":"PB21","v":25.9,"r":12},{"g":"PB21","v":26.1,"r":17},{"g":"PB21","v":26.3,"r":2},{"g":"PB21","v":26.5,"r":10},{"g":"PB21","v":26.7,"r":19},{"g":"PB21","v":26.8,"r":6},{"g":"PB21","v":27.1,"r":13},{"g":"PB21","v":27.5,"r":4},{"g":"PB21","v":28.1,"r":16},{"g":"PB21","v":29.2,"r":8},
{"g":"PB63","v":22.5,"r":18},{"g":"PB63","v":21.9,"r":11},{"g":"PB63","v":21.2,"r":1},{"g":"PB63","v":20.1,"r":14},{"g":"PB63","v":17.9,"r":9},{"g":"PB63","v":23.0,"r":20},{"g":"PB63","v":23.7,"r":5},{"g":"PB63","v":24.4,"r":12},{"g":"PB63","v":25.0,"r":17},{"g":"PB63","v":25.7,"r":2},{"g":"PB63","v":26.1,"r":10},{"g":"PB63","v":26.4,"r":19},{"g":"PB63","v":26.8,"r":6},{"g":"PB63","v":27.2,"r":13},{"g":"PB63","v":27.6,"r":4},{"g":"PB63","v":27.8,"r":16},{"g":"PB63","v":28.1,"r":8},{"g":"PB63","v":28.6,"r":7},{"g":"PB63","v":29.2,"r":15},{"g":"PB63","v":30.5,"r":3},
{"g":"PB52","v":25.7,"r":14},{"g":"PB52","v":25.5,"r":9},{"g":"PB52","v":25.0,"r":20},{"g":"PB52","v":24.4,"r":5},{"g":"PB52","v":23.3,"r":12},{"g":"PB52","v":26.0,"r":17},{"g":"PB52","v":26.4,"r":2},{"g":"PB52","v":26.7,"r":10},{"g":"PB52","v":27.0,"r":19},{"g":"PB52","v":27.3,"r":6},{"g":"PB52","v":27.6,"r":13},{"g":"PB52","v":27.9,"r":4},{"g":"PB52","v":28.2,"r":16},{"g":"PB52","v":28.5,"r":8},{"g":"PB52","v":28.9,"r":7},{"g":"PB52","v":29.0,"r":15},{"g":"PB52","v":29.1,"r":3},{"g":"PB52","v":29.3,"r":18},{"g":"PB52","v":29.6,"r":11},{"g":"PB52","v":30.1,"r":1},
{"g":"PB23","v":24.6,"r":5},{"g":"PB23","v":24.0,"r":12},{"g":"PB23","v":23.1,"r":17},{"g":"PB23","v":21.8,"r":2},{"g":"PB23","v":19.3,"r":10},{"g":"PB23","v":25.1,"r":19},{"g":"PB23","v":25.8,"r":6},{"g":"PB23","v":26.4,"r":13},{"g":"PB23","v":27.0,"r":4},{"g":"PB23","v":27.6,"r":16},{"g":"PB23","v":28.1,"r":8},{"g":"PB23","v":28.7,"r":7},{"g":"PB23","v":29.3,"r":15},{"g":"PB23","v":30.0,"r":3},{"g":"PB23","v":30.6,"r":18},{"g":"PB23","v":31.0,"r":11},{"g":"PB23","v":31.5,"r":1},{"g":"PB23","v":32.1,"r":14},{"g":"PB23","v":33.0,"r":9},{"g":"PB23","v":34.8,"r":20},
{"g":"PB96","v":25.0,"r":2},{"g":"PB96","v":24.4,"r":10},{"g":"PB96","v":23.5,"r":19},{"g":"PB96","v":22.1,"r":6},{"g":"PB96","v":19.5,"r":13},{"g":"PB96","v":25.5,"r":4},{"g":"PB96","v":26.1,"r":16},{"g":"PB96","v":26.7,"r":8},{"g":"PB96","v":27.2,"r":7},{"g":"PB96","v":27.8,"r":15},{"g":"PB96","v":28.2,"r":3},{"g":"PB96","v":28.9,"r":18},{"g":"PB96","v":29.6,"r":11},{"g":"PB96","v":30.3,"r":1},{"g":"PB96","v":31.0,"r":14},{"g":"PB96","v":31.6,"r":9},{"g":"PB96","v":32.4,"r":20},{"g":"PB96","v":33.5,"r":5},{"g":"PB96","v":35.2,"r":12},{"g":"PB96","v":38.4,"r":17},
{"g":"PB32","v":27.2,"r":6},{"g":"PB32","v":27.0,"r":13},{"g":"PB32","v":26.7,"r":4},{"g":"PB32","v":26.3,"r":16},{"g":"PB32","v":25.6,"r":8},{"g":"PB32","v":27.4,"r":7},{"g":"PB32","v":27.6,"r":15},{"g":"PB32","v":27.8,"r":3},{"g":"PB32","v":28.0,"r":18},{"g":"PB32","v":28.2,"r":11},{"g":"PB32","v":28.4,"r":1},{"g":"PB32","v":28.6,"r":14},{"g":"PB32","v":28.9,"r":9},{"g":"PB32","v":29.1,"r":20},{"g":"PB32","v":29.3,"r":5},{"g":"PB32","v":29.6,"r":12},{"g":"PB32","v":29.9,"r":17},{"g":"PB32","v":30.3,"r":2},{"g":"PB32","v":31.0,"r":10},{"g":"PB32","v":32.3,"r":19},
{"g":"PB47","v":26.1,"r":16},{"g":"PB47","v":25.8,"r":8},{"g":"PB47","v":25.2,"r":7},{"g":"PB47","v":24.4,"r":15},{"g":"PB47","v":22.9,"r":3},{"g":"PB47","v":26.5,"r":18},{"g":"PB47","v":26.9,"r":11},{"g":"PB47","v":27.4,"r":1},{"g":"PB47","v":27.8,"r":14},{"g":"PB47","v":28.3,"r":9},{"g":"PB47","v":28.7,"r":20},{"g":"PB47","v":29.2,"r":5},{"g":"PB47","v":29.8,"r":12},{"g":"PB47","v":30.5,"r":17},{"g":"PB47","v":31.0,"r":2},{"g":"PB47","v":31.5,"r":10},{"g":"PB47","v":32.0,"r":19},{"g":"PB47","v":32.7,"r":6},{"g":"PB47","v":33.8,"r":13},{"g":"PB47","v":35.8,"r":4},
{"g":"PB68","v":25.5,"r":7},{"g":"PB68","v":25.0,"r":15},{"g":"PB68","v":24.4,"r":3},{"g":"PB68","v":23.4,"r":18},{"g":"PB68","v":21.5,"r":11},{"g":"PB68","v":26.0,"r":1},{"g":"PB68","v":26.7,"r":14},{"g":"PB68","v":27.5,"r":9},{"g":"PB68","v":28.1,"r":20},{"g":"PB68","v":28.8,"r":5},{"g":"PB68","v":29.3,"r":12},{"g":"PB68","v":30.0,"r":17},{"g":"PB68","v":30.7,"r":2},{"g":"PB68","v":31.4,"r":10},{"g":"PB68","v":32.1,"r":19},{"g":"PB68","v":32.6,"r":6},{"g":"PB68","v":33.4,"r":13},{"g":"PB68","v":34.4,"r":4},{"g":"PB68","v":35.9,"r":16},{"g":"PB68","v":38.9,"r":8},
{"g":"PB56","v":27.7,"r":18},{"g":"PB56","v":27.2,"r":11},{"g":"PB56","v":26.6,"r":1},{"g":"PB56","v":25.7,"r":14},{"g":"PB56","v":24.0,"r":9},{"g":"PB56","v":28.0,"r":20},{"g":"PB56","v":28.3,"r":5},{"g":"PB56","v":28.7,"r":12},{"g":"PB56","v":29.0,"r":17},{"g":"PB56","v":29.3,"r":2},{"g":"PB56","v":29.6,"r":10},{"g":"PB56","v":29.7,"r":19},{"g":"PB56","v":30.0,"r":6},{"g":"PB56","v":30.2,"r":13},{"g":"PB56","v":30.4,"r":4},{"g":"PB56","v":30.6,"r":16},{"g":"PB56","v":30.9,"r":8},{"g":"PB56","v":31.3,"r":7},{"g":"PB56","v":32.0,"r":15},{"g":"PB56","v":33.2,"r":3},
{"g":"PB34","v":26.9,"r":14},{"g":"PB34","v":26.5,"r":9},{"g":"PB34","v":26.0,"r":20},{"g":"PB34","v":25.3,"r":5},{"g":"PB34","v":24.0,"r":12},{"g":"PB34","v":27.2,"r":17},{"g":"PB34","v":27.9,"r":2},{"g":"PB34","v":28.5,"r":10},{"g":"PB34","v":29.0,"r":19},{"g":"PB34","v":29.6,"r":6},{"g":"PB34","v":30.0,"r":13},{"g":"PB34","v":30.5,"r":4},{"g":"PB34","v":31.0,"r":16},{"g":"PB34","v":31.6,"r":8},{"g":"PB34","v":32.1,"r":7},{"g":"PB34","v":32.5,"r":15},{"g":"PB34","v":33.1,"r":3},{"g":"PB34","v":33.9,"r":18},{"g":"PB34","v":35.1,"r":11},{"g":"PB34","v":37.4,"r":1},
{"g":"PB33","v":27.5,"r":5},{"g":"PB33","v":27.0,"r":12},{"g":"PB33","v":26.3,"r":17},{"g":"PB33","v":25.3,"r":2},{"g":"PB33","v":23.4,"r":10},{"g":"PB33","v":27.9,"r":19},{"g":"PB33","v":28.5,"r":6},{"g":"PB33","v":29.1,"r":13},{"g":"PB33","v":29.6,"r":4},{"g":"PB33","v":30.1,"r":16},{"g":"PB33","v":30.4,"r":8},{"g":"PB33","v":30.7,"r":7},{"g":"PB33","v":30.9,"r":15},{"g":"PB33","v":31.2,"r":3},{"g":"PB33","v":31.5,"r":18},{"g":"PB33","v":31.8,"r":11},{"g":"PB33","v":32.2,"r":1},{"g":"PB33","v":32.9,"r":14},{"g":"PB33","v":33.8,"r":9},{"g":"PB33","v":35.6,"r":20},
{"g":"PB48","v":27.5,"r":2},{"g":"PB48","v":27.3,"r":10},{"g":"PB48","v":26.9,"r":19},{"g":"PB48","v":26.4,"r":6},{"g":"PB48","v":25.4,"r":13},{"g":"PB48","v":27.9,"r":4},{"g":"PB48","v":28.5,"r":16},{"g":"PB48","v":29.1,"r":8},{"g":"PB48","v":29.6,"r":7},{"g":"PB48","v":30.2,"r":15},{"g":"PB48","v":30.5,"r":3},{"g":"PB48","v":30.9,"r":18},{"g":"PB48","v":31.3,"r":11},{"g":"PB48","v":31.6,"r":1},{"g":"PB48","v":32.0,"r":14},{"g":"PB48","v":32.3,"r":9},{"g":"PB48","v":32.5,"r":20},{"g":"PB48","v":32.9,"r":5},{"g":"PB48","v":33.4,"r":12},{"g":"PB48","v":34.5,"r":17},
{"g":"PB22","v":29.1,"r":6},{"g":"PB22","v":28.8,"r":13},{"g":"PB22","v":28.2,"r":4},{"g":"PB22","v":27.5,"r":16},{"g":"PB22","v":26.0,"r":8},{"g":"PB22","v":29.4,"r":7},{"g":"PB22","v":29.7,"r":15},{"g":"PB22","v":30.0,"r":3},{"g":"PB22","v":30.3,"r":18},{"g":"PB22","v":30.5,"r":11},{"g":"PB22","v":30.8,"r":1},{"g":"PB22","v":31.1,"r":14},{"g":"PB22","v":31.4,"r":9},{"g":"PB22","v":31.7,"r":20},{"g":"PB22","v":32.0,"r":5},{"g":"PB22","v":32.3,"r":12},{"g":"PB22","v":32.7,"r":17},{"g":"PB22","v":33.2,"r":2},{"g":"PB22","v":34.0,"r":10},{"g":"PB22","v":35.5,"r":19},
{"g":"PB31","v":30.4,"r":16},{"g":"PB31","v":30.3,"r":8},{"g":"PB31","v":30.1,"r":7},{"g":"PB31","v":29.8,"r":15},{"g":"PB31","v":29.3,"r":3},{"g":"PB31","v":30.6,"r":18},{"g":"PB31","v":31.0,"r":11},{"g":"PB31","v":31.5,"r":1},{"g":"PB31","v":31.8,"r":14},{"g":"PB31","v":32.2,"r":9},{"g":"PB31","v":32.5,"r":20},{"g":"PB31","v":33.0,"r":5},{"g":"PB31","v":33.5,"r":12},{"g":"PB31","v":34.0,"r":17},{"g":"PB31","v":34.5,"r":2},{"g":"PB31","v":34.8,"r":10},{"g":"PB31","v":34.9,"r":19},{"g":"PB31","v":35.2,"r":6},{"g":"PB31","v":35.5,"r":13},{"g":"PB31","v":36.2,"r":4}
]
},
"vconcat": [
{
  "width": 859.3, "height": 292.7,
  "layer": [
    {"data": {"name": "w"},
     "mark": {"type": "circle", "size": 52, "color": "#7f7f7f", "opacity": 0.4},
     "encoding": {
       "x": {"field": "g", "type": "nominal",
             "scale": {"domain": ["PB27","PB50","PB83","PB65","PB28","PB23","PB21","PB68","PB84","PB67","PB63","PB52","PB70","PB22","PB47","PB96","PB82","PB58","PB26","PB55","PB33","PB48","PB32","PB56","PB34","PB31"], "range": [16.7, 859.3], "paddingInner": 0, "paddingOuter": 0.1},
             "axis": {"title": null, "labelAngle": 270, "labelAlign": "right", "labelBaseline": "middle"}},
       "xOffset": {"field": "r", "type": "nominal", "scale": {"range": [8.1, 24.1], "paddingInner": 0, "paddingOuter": 0}},
       "y": {"field": "v", "type": "quantitative",
             "scale": {"domain": [-0.385, 10.87], "nice": false, "zero": false},
             "axis": {"title": ["Szerokość aparatów", "szparkowych (um)"], "values": [0, 2.5, 5, 7.5, 10], "format": ".1f", "offset": -16.7}}
     }},
    {"data": {"name": "bw"}, "mark": {"type": "rule", "color": "#333333", "strokeWidth": 1.4},
     "encoding": {"x": {"field": "g", "type": "nominal"}, "y": {"field": "lo", "type": "quantitative"}, "y2": {"field": "q1"}}},
    {"data": {"name": "bw"}, "mark": {"type": "rule", "color": "#333333", "strokeWidth": 1.4},
     "encoding": {"x": {"field": "g", "type": "nominal"}, "y": {"field": "q3", "type": "quantitative"}, "y2": {"field": "hi"}}},
    {"data": {"name": "bw"}, "mark": {"type": "bar", "filled": false, "color": "#333333", "strokeWidth": 1.4, "width": {"band": 0.75}},
     "encoding": {"x": {"field": "g", "type": "nominal"}, "y": {"field": "q1", "type": "quantitative"}, "y2": {"field": "q3"}}},
    {"data": {"name": "bw"}, "mark": {"type": "tick", "color": "#333333", "thickness": 3.8, "size": 25},
     "encoding": {"x": {"field": "g", "type": "nominal"}, "y": {"field": "md", "type": "quantitative"}}}
  ]
},
{
  "width": 860, "height": 292.4,
  "layer": [
    {"data": {"name": "l"},
     "mark": {"type": "circle", "size": 52, "color": "#7f7f7f", "opacity": 0.4},
     "encoding": {
       "x": {"field": "g", "type": "nominal",
             "scale": {"domain": ["PB27","PB58","PB28","PB50","PB84","PB67","PB26","PB65","PB55","PB82","PB83","PB70","PB21","PB63","PB52","PB23","PB96","PB32","PB47","PB68","PB56","PB34","PB33","PB48","PB22","PB31"], "paddingInner": 0, "paddingOuter": 0.1},
             "axis": {"title": null, "labelAngle": 270, "labelAlign": "right", "labelBaseline": "middle"}},
       "xOffset": {"field": "r", "type": "nominal", "scale": {"range": [8.4, 24.4], "paddingInner": 0, "paddingOuter": 0}},
       "y": {"field": "v", "type": "quantitative",
             "scale": {"domain": [11.92, 40.39], "nice": false, "zero": false},
             "axis": {"title": ["Długość aparatów", "szparkowych (um)"], "values": [20, 30, 40], "format": "d"}}
     }},
    {"data": {"name": "bl"}, "mark": {"type": "rule", "color": "#333333", "strokeWidth": 1.4},
     "encoding": {"x": {"field": "g", "type": "nominal"}, "y": {"field": "lo", "type": "quantitative"}, "y2": {"field": "q1"}}},
    {"data": {"name": "bl"}, "mark": {"type": "rule", "color": "#333333", "strokeWidth": 1.4},
     "encoding": {"x": {"field": "g", "type": "nominal"}, "y": {"field": "q3", "type": "quantitative"}, "y2": {"field": "hi"}}},
    {"data": {"name": "bl"}, "mark": {"type": "bar", "filled": false, "color": "#333333", "strokeWidth": 1.4, "width": {"band": 0.75}},
     "encoding": {"x": {"field": "g", "type": "nominal"}, "y": {"field": "q1", "type": "quantitative"}, "y2": {"field": "q3"}}},
    {"data": {"name": "bl"}, "mark": {"type": "tick", "color": "#333333", "thickness": 3.8, "size": 25.8},
     "encoding": {"x": {"field": "g", "type": "nominal"}, "y": {"field": "md", "type": "quantitative"}}}
  ]
}
]
}
